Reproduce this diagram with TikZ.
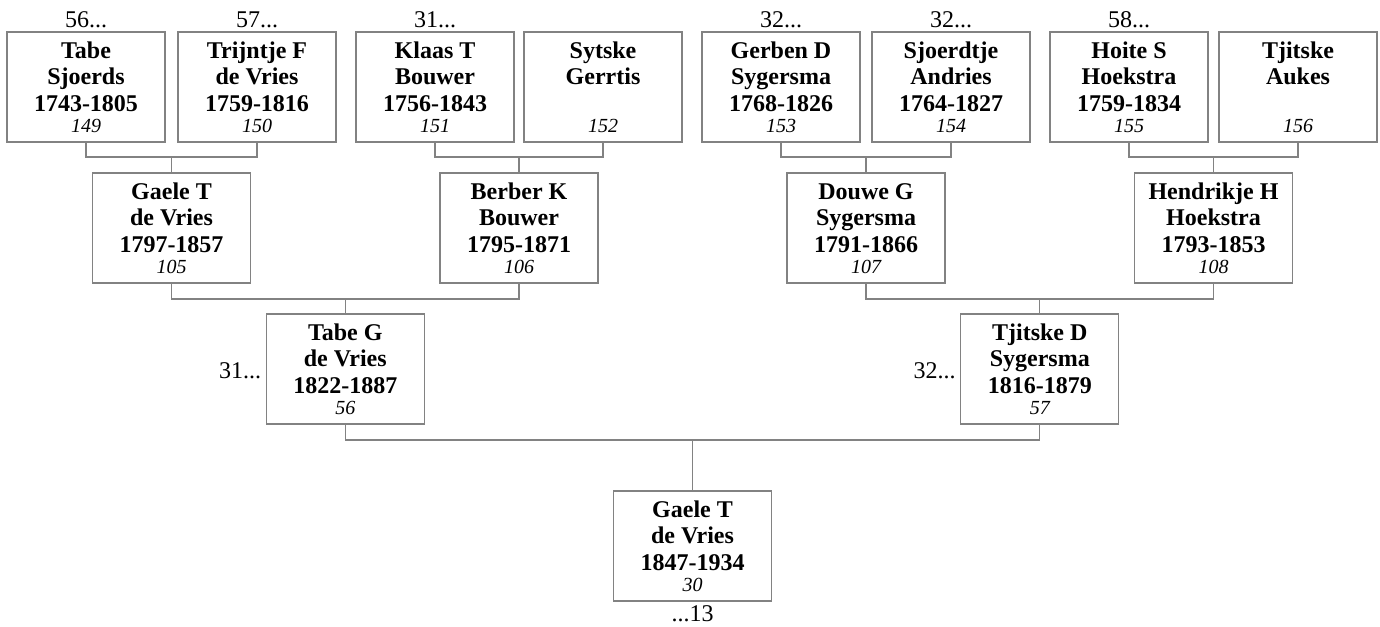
\documentclass[tikz,border=0pt]{standalone}
\usepackage{fontspec}
\setmainfont{Liberation Serif}
\definecolor{lineg}{RGB}{130,130,130}
\newcommand{\pcard}[4]{\parbox[c][110pt][t]{158pt}{\centering\fontsize{24}{26.5}\selectfont\bfseries\rule{0pt}{26pt}#1\\#2\\#3\\[-5.5pt]{\mdseries\itshape\fontsize{20}{20}\selectfont #4}}}
\tikzset{
  person/.style={draw=lineg, line width=1.3pt, inner sep=0pt, outer sep=0pt, fill=white},
  conn/.style={draw=lineg, line width=1.3pt},
  reflab/.style={inner sep=0pt, font=\fontsize{24}{24}\selectfont}
}
\begin{document}
\begin{tikzpicture}[x=1pt,y=-1pt]
\useasboundingbox (0,0) rectangle (1380,626);
% generation 4
\node[person] (p149) at (86,87)   {\pcard{Tabe}{Sjoerds}{1743-1805}{149}};
\node[person] (p150) at (257,87)  {\pcard{Trijntje F}{de Vries}{1759-1816}{150}};
\node[person] (p151) at (435,87)  {\pcard{Klaas T}{Bouwer}{1756-1843}{151}};
\node[person] (p152) at (603,87)  {\pcard{Sytske}{Gerrtis}{\mbox{}}{152}};
\node[person] (p153) at (781,87)  {\pcard{Gerben D}{Sygersma}{1768-1826}{153}};
\node[person] (p154) at (951,87)  {\pcard{Sjoerdtje}{Andries}{1764-1827}{154}};
\node[person] (p155) at (1129,87) {\pcard{Hoite S}{Hoekstra}{1759-1834}{155}};
\node[person] (p156) at (1298,87) {\pcard{Tjitske}{Aukes}{\mbox{}}{156}};
% generation 3
\node[person] (p105) at (171.5,228) {\pcard{Gaele T}{de Vries}{1797-1857}{105}};
\node[person] (p106) at (519,228)   {\pcard{Berber K}{Bouwer}{1795-1871}{106}};
\node[person] (p107) at (866,228)   {\pcard{Douwe G}{Sygersma}{1791-1866}{107}};
\node[person] (p108) at (1213.5,228){\pcard{Hendrikje H}{Hoekstra}{1793-1853}{108}};
% generation 2
\node[person] (p56) at (345.25,369) {\pcard{Tabe G}{de Vries}{1822-1887}{56}};
\node[person] (p57) at (1039.75,369){\pcard{Tjitske D}{Sygersma}{1816-1879}{57}};
% generation 1
\node[person] (p30) at (692.5,546) {\pcard{Gaele T}{de Vries}{1847-1934}{30}};
% labels
\node[reflab, anchor=base] (l149) at ([yshift=4pt]p149.north) {56...};
\node[reflab, anchor=base] (l150) at ([yshift=4pt]p150.north) {57...};
\node[reflab, anchor=base] (l151) at ([yshift=4pt]p151.north) {31...};
\node[reflab, anchor=base] (l153) at ([yshift=4pt]p153.north) {32...};
\node[reflab, anchor=base] (l154) at ([yshift=4pt]p154.north) {32...};
\node[reflab, anchor=base] (l155) at ([yshift=4pt]p155.north) {58...};
\node[reflab, anchor=base east] (l56) at ([xshift=-5pt,yshift=-9pt]p56.west) {31...};
\node[reflab, anchor=base east] (l57) at ([xshift=-5pt,yshift=-9pt]p57.west) {32...};
\node[reflab, anchor=base] (l30) at ([yshift=-20pt]p30.south) {...13};
% connectors gen4 -> gen3
\draw[conn] (p149.south) -- ++(0,15) -| (p150.south);
\draw[conn] (p105.north) -- ++(0,-16);
\draw[conn] (p151.south) -- ++(0,15) -| (p152.south);
\draw[conn] (p106.north) -- ++(0,-16);
\draw[conn] (p153.south) -- ++(0,15) -| (p154.south);
\draw[conn] (p107.north) -- ++(0,-16);
\draw[conn] (p155.south) -- ++(0,15) -| (p156.south);
\draw[conn] (p108.north) -- ++(0,-16);
% gen3 -> gen2
\draw[conn] (p105.south) -- ++(0,16) -| (p106.south);
\draw[conn] (p56.north) -- ++(0,-15);
\draw[conn] (p107.south) -- ++(0,16) -| (p108.south);
\draw[conn] (p57.north) -- ++(0,-15);
% gen2 -> gen1
\draw[conn] (p56.south) -- ++(0,16) -| (p57.south);
\draw[conn] (p30.north) -- ++(0,-51);
\end{tikzpicture}
\end{document}
